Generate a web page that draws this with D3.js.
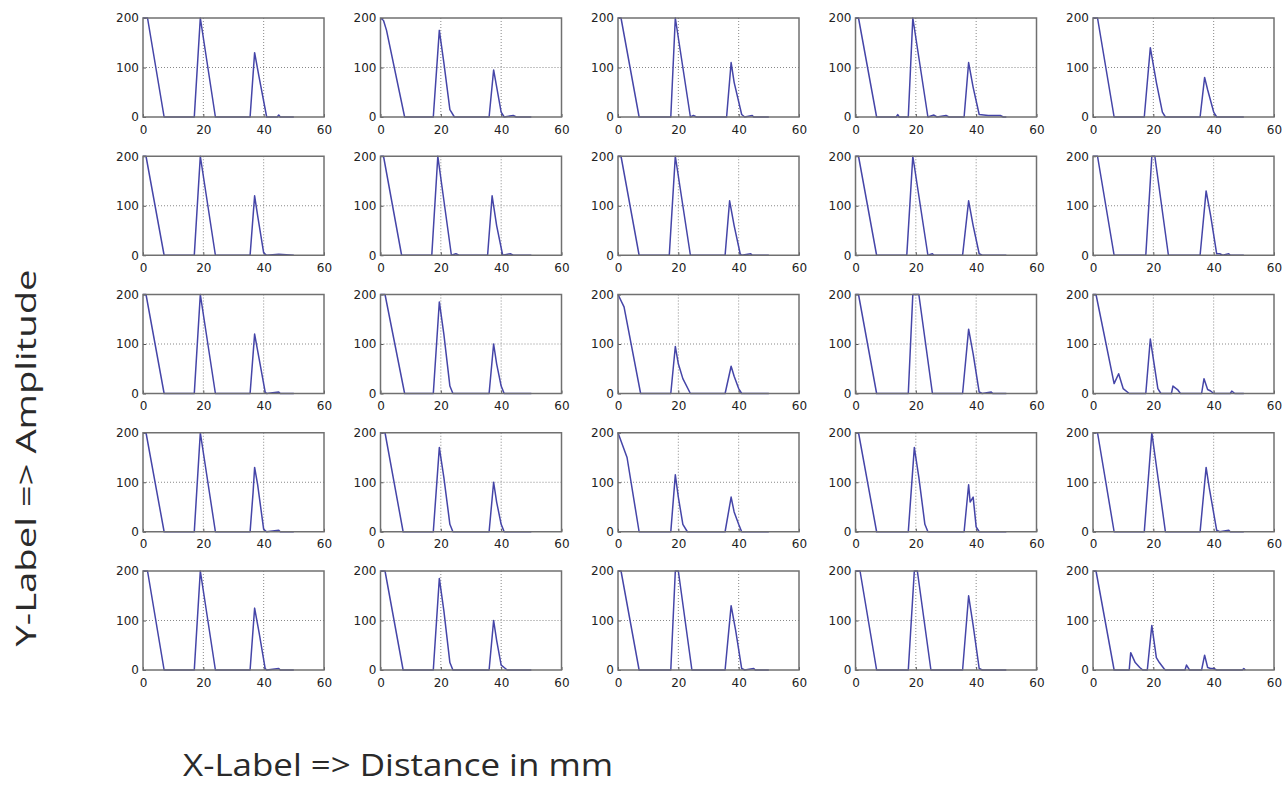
<!DOCTYPE html>
<html lang="en">
<head>
    <meta charset="UTF-8">
    <title>Amplitude vs Distance</title>
    <script src="https://d3js.org/d3.v7.min.js"></script>
    <style>
        body {
            margin: 0;
            background: #fff;
        }
        .tick text {
            font-family: "DejaVu Sans", sans-serif;
            font-size: 12px;
            fill: #222;
        }
        .axis-label {
            font-family: "Open Sans", sans-serif;
            fill: #2a2a2a;
        }
    </style>
</head>
<body>
    <div id="chart"></div>

    <script>
        // axis ticks
        const distTicks = [0, 20, 40, 60];
        const ampTicks = [0, 100, 200];

        // each panel: [distance mm, amplitude] pairs
        // row 1
        const p11 = [[0,200],[1.5,200],[7,0],[17,0],[19,200],[24,0],[35.5,0],[37,130],[38.5,80],[41,0],[44.5,0],[45,4],[45.5,0],[50,0]];
        const p12 = [[0,200],[1,195],[2,175],[8,0],[17.5,0],[19.5,175],[21,110],[23,15],[24.5,0],[36,0],[37.5,95],[40,10],[41,0],[44,3],[45,0],[50,0]];
        const p13 = [[0,200],[1,200],[7,0],[17.5,0],[19,200],[24,0],[25,3],[26,0],[36,0],[37.5,110],[38.5,70],[41,5],[42,0],[44.5,3],[45,0],[50,0]];
        const p14 = [[0,200],[1,200],[7,0],[13.5,0],[14,5],[14.5,0],[17.5,0],[19,200],[24,0],[26,4],[27,0],[30,3],[31,0],[36,0],[37.5,110],[39,60],[41,5],[44,3],[48,3],[49,0],[50,0]];
        const p15 = [[0,200],[1.5,200],[7,0],[17,0],[19,140],[21,70],[23,10],[24,0],[35.5,0],[37,80],[38,55],[40,10],[41,0],[50,0]];
        // row 2
        const p21 = [[0,200],[1,200],[7,0],[17,0],[19,200],[24,0],[35.5,0],[37,120],[38,80],[40,5],[41,0],[45,2],[50,0]];
        const p22 = [[0,200],[1,200],[7,0],[17,0],[19,200],[23.5,0],[25,3],[26,0],[35.5,0],[37,120],[38.5,60],[40.5,0],[43,3],[44,0],[50,0]];
        const p23 = [[0,200],[1,200],[7,0],[17,0],[19,200],[24,0],[35.5,0],[37,110],[38.5,60],[40.5,3],[41,0],[44,3],[44.5,0],[50,0]];
        const p24 = [[0,200],[1,200],[7,0],[17,0],[19,200],[24,0],[25.5,3],[26,0],[35.5,0],[37.5,110],[39,60],[41,3],[42,0],[50,0]];
        const p25 = [[0,200],[1.5,200],[7,0],[17.5,0],[19.5,200],[20.5,200],[25,0],[35.5,0],[37.5,130],[39,80],[41,3],[42,3],[43,0],[45,3],[45.5,0],[50,0]];
        // row 3
        const p31 = [[0,200],[1,200],[7,0],[17,0],[19,200],[24,0],[35.5,0],[37,120],[38.5,70],[40.5,3],[41,0],[45,3],[45.5,0],[50,0]];
        const p32 = [[0,200],[1.5,200],[8,0],[17.5,0],[19.5,185],[21,120],[23,15],[24,0],[36,0],[37.5,100],[38.5,60],[40,15],[41,0],[50,0]];
        const p33 = [[0,200],[2,175],[7.5,0],[17.5,0],[19,95],[20,60],[21.5,30],[24,0],[35.5,0],[37.5,55],[38.5,35],[40,10],[41,0],[50,0]];
        const p34 = [[0,200],[1,200],[7,0],[17.5,0],[19,200],[21,200],[25.5,0],[35.5,0],[37.5,130],[39,80],[41,3],[42,0],[45,3],[45.5,0],[50,0]];
        const p35 = [[0,200],[1,200],[7,20],[8.5,40],[10,10],[12,0],[17.5,0],[19,110],[20,70],[21.5,10],[22.5,0],[26,0],[26.5,15],[28,8],[29,0],[36,0],[36.8,30],[38,8],[39,5],[40,0],[45.5,0],[46,5],[47,0],[50,0]];
        // row 4
        const p41 = [[0,200],[1,200],[7,0],[17,0],[19,200],[24,0],[35.5,0],[36.5,80],[37,130],[38,95],[40,5],[41,0],[45,3],[45.5,0],[50,0]];
        const p42 = [[0,200],[1.5,200],[7.5,0],[17.5,0],[19.5,170],[21,110],[23,15],[24,0],[36,0],[37.5,100],[38.5,60],[40,15],[41,0],[50,0]];
        const p43 = [[0,200],[3,150],[7,0],[17.5,0],[19,115],[20,70],[21.5,15],[23,0],[35.5,0],[37.5,70],[38.5,40],[40,15],[41,0],[50,0]];
        const p44 = [[0,200],[1,200],[7,0],[17.5,0],[19.5,170],[21,110],[23,15],[24,0],[36,0],[37.5,95],[38,60],[39,70],[40,10],[41,0],[50,0]];
        const p45 = [[0,200],[1.5,200],[7,0],[17,0],[19.5,200],[24,0],[35.5,0],[37.5,130],[38.5,90],[41,3],[42,0],[45,3],[45.5,0],[50,0]];
        // row 5
        const p51 = [[0,200],[1.5,200],[7,0],[17,0],[19,200],[24,0],[35.5,0],[37,125],[38.5,75],[40.5,3],[41,0],[45,3],[45.5,0],[50,0]];
        const p52 = [[0,200],[1.5,200],[7.5,0],[17.5,0],[19.5,185],[21,120],[23,15],[24,0],[36,0],[37.5,100],[38.5,60],[40,10],[41,5],[42,0],[50,0]];
        const p53 = [[0,200],[1,200],[7,0],[17.5,0],[19,200],[20,200],[24.5,0],[35.5,0],[37.5,130],[39,80],[41,3],[42,0],[45,3],[45.5,0],[50,0]];
        const p54 = [[0,200],[1.5,200],[7,0],[17.5,0],[19.5,200],[20.5,200],[25,0],[35.5,0],[37.5,150],[39,90],[41,3],[42,0],[50,0]];
        const p55 = [[0,200],[1,200],[4,100],[7,0],[12,0],[12.5,35],[14,15],[15.5,5],[16.5,0],[18,0],[19.5,90],[21,25],[22,15],[23.5,3],[24,0],[30.5,0],[31,10],[32,0],[36,0],[37,30],[38,5],[39,3],[40,3],[41,0],[49.5,0],[50,3],[50.5,0]];

        const panels = [
            [p11, p12, p13, p14, p15],
            [p21, p22, p23, p24, p25],
            [p31, p32, p33, p34, p35],
            [p41, p42, p43, p44, p45],
            [p51, p52, p53, p54, p55]
        ];

        const W = 1287, H = 785;
        const plotW = 181, plotH = 99;
        const left0 = 143, top0 = 18;
        const colStep = 237.5, rowStep = 138.25;

        const svg = d3.select("#chart")
            .append("svg")
            .attr("width", W)
            .attr("height", H);

        const x = d3.scaleLinear().domain([0, 60]).range([0, plotW]);
        const y = d3.scaleLinear().domain([0, 200]).range([plotH, 0]);

        const line = d3.line()
            .x(d => x(d[0]))
            .y(d => y(d[1]));

        panels.forEach((row, r) => {
            row.forEach((pts, c) => {
                const g = svg.append("g")
                    .attr("transform", `translate(${left0 + c * colStep},${top0 + r * rowStep})`);

                // dotted grid
                g.append("g")
                    .selectAll("line")
                    .data(distTicks.slice(1, -1))
                    .join("line")
                    .attr("x1", d => x(d)).attr("x2", d => x(d))
                    .attr("y1", 0).attr("y2", plotH)
                    .attr("stroke", "#888")
                    .attr("stroke-width", 1)
                    .attr("stroke-dasharray", "1,2");
                g.append("g")
                    .selectAll("line")
                    .data(ampTicks.slice(1, -1))
                    .join("line")
                    .attr("x1", 0).attr("x2", plotW)
                    .attr("y1", d => y(d)).attr("y2", d => y(d))
                    .attr("stroke", "#888")
                    .attr("stroke-width", 1)
                    .attr("stroke-dasharray", "1,2");

                // axes (inward ticks like matlab)
                const xa = g.append("g")
                    .attr("transform", `translate(0,${plotH})`)
                    .call(d3.axisBottom(x).tickValues(distTicks).tickSizeInner(-3).tickSizeOuter(0).tickPadding(8));
                const ya = g.append("g")
                    .call(d3.axisLeft(y).tickValues(ampTicks).tickSizeInner(-3).tickSizeOuter(0).tickPadding(4));
                [xa, ya].forEach(a => {
                    a.select(".domain").remove();
                    a.selectAll(".tick line").attr("stroke", "#555");
                });

                // signal
                g.append("path")
                    .datum(pts)
                    .attr("fill", "none")
                    .attr("stroke", "#4545a8")
                    .attr("stroke-width", 1.5)
                    .attr("stroke-linejoin", "round")
                    .attr("d", line);

                // box
                g.append("rect")
                    .attr("width", plotW)
                    .attr("height", plotH)
                    .attr("fill", "none")
                    .attr("stroke", "#707070")
                    .attr("stroke-width", 1.5);
            });
        });

        svg.append("text")
            .attr("class", "axis-label")
            .attr("transform", "translate(36,458) rotate(-90)")
            .attr("text-anchor", "middle")
            .attr("font-size", 28)
            .attr("textLength", 377)
            .attr("lengthAdjust", "spacingAndGlyphs")
            .text("Y-Label => Amplitude");

        svg.append("text")
            .attr("class", "axis-label")
            .attr("x", 398)
            .attr("y", 776)
            .attr("text-anchor", "middle")
            .attr("font-size", 31)
            .attr("textLength", 430)
            .attr("lengthAdjust", "spacingAndGlyphs")
            .text("X-Label => Distance in mm");
    </script>
</body>
</html>
